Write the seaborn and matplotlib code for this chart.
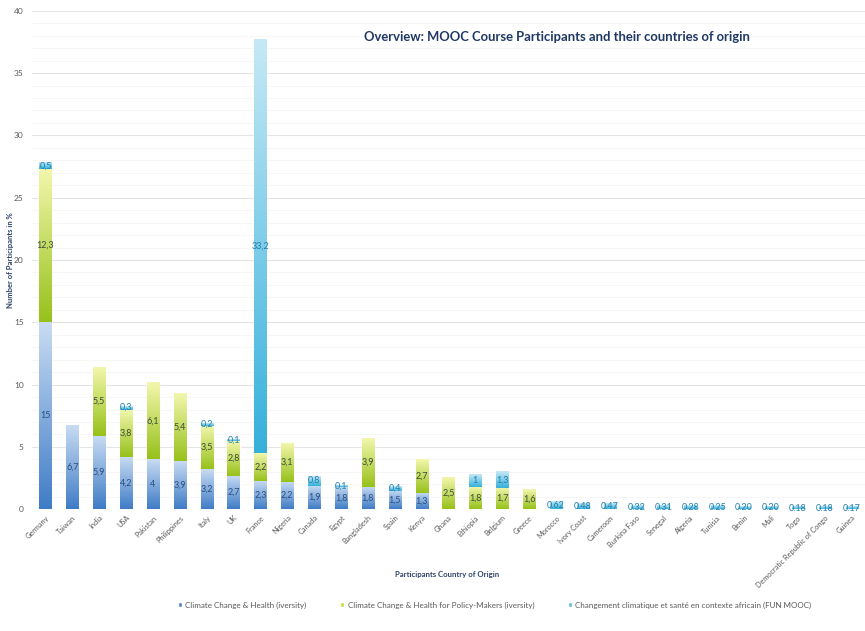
import numpy as np
import pandas as pd
import matplotlib
matplotlib.use("Agg")
import matplotlib.pyplot as plt
from matplotlib.colors import LinearSegmentedColormap
from matplotlib.patches import Patch
import seaborn as sns

# Data (percent of participants)
countries = ['Germany', 'Taiwan', 'India', 'USA', 'Pakistan', 'Philippines', 'Italy', 'UK',
             'France', 'Nigeria', 'Canada', 'Egypt', 'Bangladesh', 'Spain', 'Kenya', 'Ghana',
             'Ethiopia', 'Belgium', 'Greece', 'Morocco', 'Ivory Coast', 'Cameroon',
             'Burkina Faso', 'Senegal', 'Algeria', 'Tunisia', 'Benin', 'Mali', 'Togo',
             'Democratic Republic of Congo', 'Guinea']
iversity = [15, 6.7, 5.9, 4.2, 4, 3.9, 3.2, 2.7, 2.3, 2.2, 1.9, 1.8, 1.8, 1.5, 1.3, 0,
            0, 0, 0, 0, 0, 0, 0, 0, 0, 0, 0, 0, 0, 0, 0]
policy = [12.3, 0, 5.5, 3.8, 6.1, 5.4, 3.5, 2.8, 2.2, 3.1, 0, 0, 3.9, 0, 2.7, 2.5,
          1.8, 1.7, 1.6, 0, 0, 0, 0, 0, 0, 0, 0, 0, 0, 0, 0]
fun_mooc = [0.5, 0, 0, 0.3, 0, 0, 0.2, 0.1, 33.2, 0, 0.8, 0.1, 0, 0.4, 0, 0,
            1, 1.3, 0, 0.62, 0.48, 0.47, 0.32, 0.31, 0.28, 0.25, 0.20, 0.20, 0.18, 0.18, 0.17]
series_names = ['Climate Change & Health (iversity)',
                'Climate Change & Health for Policy-Makers (iversity)',
                'Changement climatique et santé en contexte africain (FUN MOOC)']

df = pd.DataFrame({'country': countries, 's1': iversity, 's2': policy, 's3': fun_mooc})
df['c1'] = df['s1']
df['c2'] = df['c1'] + df['s2']
df['c3'] = df['c2'] + df['s3']

# gradient colours (bottom, top) and label colours per series
grads = [('#3f7cc6', '#c9dcf3'), ('#97c11a', '#f3f7ad'), ('#35b0da', '#c6e9f6')]
solid = ['#8fb3e3', '#d4e66a', '#8dd3ec']
label_colors = ['#2b4d80', '#3c4b3d', '#1f7fae']

sns.set_style('white')
plt.rcParams['font.family'] = ['Lato', 'DejaVu Sans']

fig = plt.figure(figsize=(8.65, 6.31), dpi=100)
ax = fig.add_axes([0.037, 0.193, 0.963, 0.790])

# layered stacked bars: draw totals first, then partial sums over them
patch_sets = {}
for k, col in [(3, 'c3'), (2, 'c2'), (1, 'c1')]:
    n0 = len(ax.patches)
    sns.barplot(data=df, x='country', y=col, order=countries, color=solid[k - 1],
                saturation=1, width=0.45, ax=ax, zorder=1)
    patch_sets[k] = ax.patches[n0:]

grad_vec = np.linspace(0, 1, 256).reshape(-1, 1)
for k in (1, 2, 3):
    cmap = LinearSegmentedColormap.from_list('g%d' % k, grads[k - 1])
    lo_col = 'c%d' % (k - 1) if k > 1 else None
    for i, p in enumerate(patch_sets[k]):
        lo = df[lo_col].iloc[i] if lo_col else 0.0
        hi = df['c%d' % k].iloc[i]
        if hi - lo <= 0:
            continue
        x0 = p.get_x()
        x1 = x0 + p.get_width()
        ax.imshow(grad_vec, cmap=cmap, origin='lower', aspect='auto',
                  extent=[x0, x1, lo, hi], zorder=2, interpolation='bilinear')

# value labels centred on each segment
for i, row in df.iterrows():
    lo = 0.0
    for k in (1, 2, 3):
        v = row['s%d' % k]
        if v > 0:
            if k == 3 and row['s1'] == 0 and row['s2'] == 0 and v < 1:
                txt = '%.2f' % v
            else:
                txt = ('%g' % v).replace('.', ',')
            ax.text(i, lo + v / 2, txt, ha='center', va='center', fontsize=6.5,
                    color=label_colors[k - 1], zorder=4)
        lo += v

ax.set_xlim(-0.5, len(countries) - 0.5)
ax.set_ylim(0, 40)
ax.set_yticks(np.arange(0, 41, 5))
ax.set_yticks(np.arange(0, 41, 1), minor=True)
ax.grid(axis='y', which='major', color='#e4e4e4', linewidth=0.8, zorder=0)
ax.grid(axis='y', which='minor', color='#f5f5f5', linewidth=0.6, zorder=0)
ax.set_axisbelow(True)
for s in ax.spines.values():
    s.set_visible(False)
ax.tick_params(axis='both', length=0, labelsize=6, labelcolor='#595959')
ax.tick_params(axis='y', pad=6)
plt.setp(ax.get_xticklabels(), rotation=45, ha='right', rotation_mode='anchor', fontsize=5.3)

ax.set_xlabel('Participants Country of Origin', fontsize=5.6, fontweight='bold',
              color='#2d4368')
ax.xaxis.set_label_coords(0.498, -0.123)
ax.set_ylabel('Number of Participants in %', fontsize=5.5, fontweight='bold', color='#2d4368')
ax.yaxis.set_label_coords(-0.022, 0.5)

ax.text(0.63, 0.948, 'Overview: MOOC Course Participants and their countries of origin',
        transform=ax.transAxes, ha='center', va='center', fontsize=9.4,
        fontweight='bold', color='#1f3864')

handles = [Patch(facecolor=c) for c in ['#4f86c9', '#c9dd3a', '#5fc0e2']]
fig.legend(handles, series_names, loc='center', bbox_to_anchor=(0.572, 0.041), ncol=3,
           frameon=False, fontsize=5.8, handlelength=0.5, handleheight=0.5,
           handletextpad=0.4, columnspacing=4.2, labelcolor='#595959')

fig.savefig('out.png', dpi=100)
